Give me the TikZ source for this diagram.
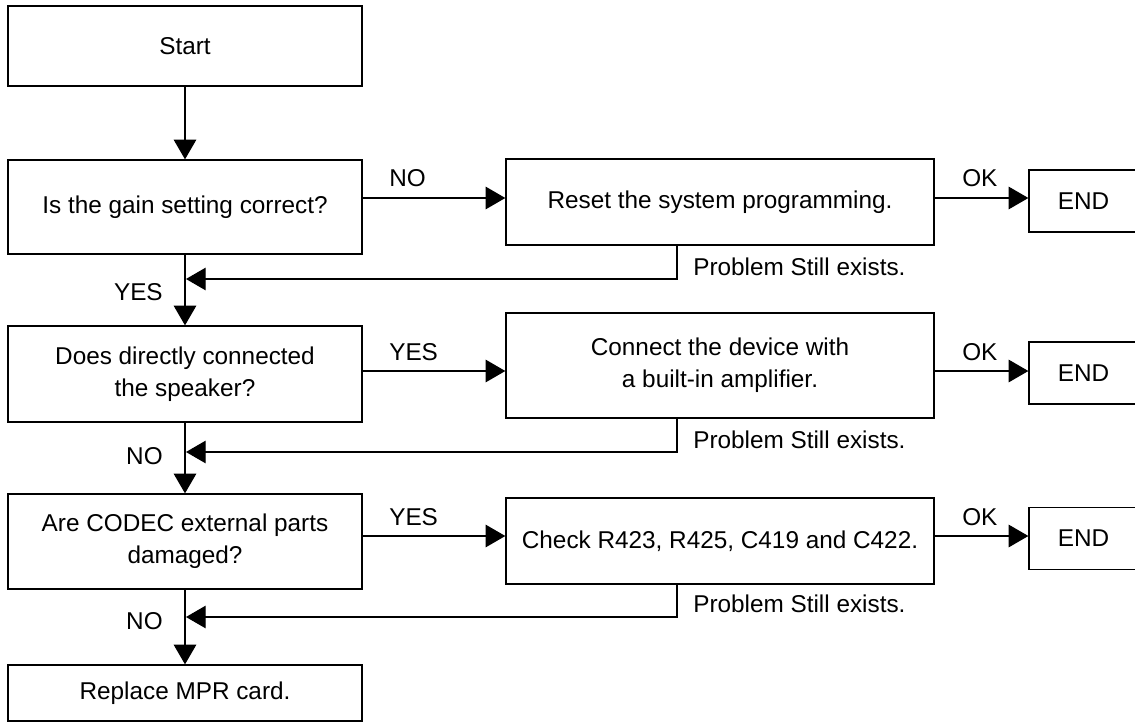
\documentclass[tikz,border=0pt]{standalone}
\usepackage{fontspec}
\setmainfont{Liberation Sans}
\usetikzlibrary{arrows.meta, positioning, calc}

\begin{document}
\begin{tikzpicture}[
    x=0.025cm, y=-0.025cm,
    every node/.style={font=\fontsize{17.3pt}{22.8pt}\selectfont},
    question/.style={rectangle, draw, line width=0.9pt, minimum width=8.85cm, align=center, inner sep=0pt},
    action/.style={rectangle, draw, line width=0.9pt, minimum width=10.7cm, align=center, inner sep=0pt},
    finish/.style={rectangle, draw, line width=0.9pt, minimum width=2.9cm, minimum height=1.55cm, text width=2.7cm, align=left, inner sep=0pt},
    arrow/.style={-{Triangle[length=14pt, width=16pt]}, line width=0.9pt},
    answer/.style={inner sep=0pt}
]
\useasboundingbox (0,0) rectangle (1135,722);

% Nodes
\node[question, minimum height=2cm] (start) at (185,46) {Start};
\node[question, minimum height=2.35cm] (gain) at (185,207) {Is the gain setting correct?};
\node[question, minimum height=2.4cm] (direct) at (185,374) {Does directly connected\\the speaker?};
\node[question, minimum height=2.375cm] (codec) at (185,541.5) {Are CODEC external parts\\damaged?};
\node[question, minimum height=1.4cm] (mpr) at (185,693) {Replace MPR card.};

\node[action, minimum height=2.15cm] (reset) at (720,202) {Reset the system programming.};
\node[action, minimum height=2.625cm] (amp) at (720,365.5) {Connect the device with\\a built-in amplifier.};
\node[action, minimum height=2.15cm] (parts) at (720,541) {Check R423, R425, C419 and C422.};

% END boxes run off the right edge
\node[finish] (end1) at (1087,201) {\hspace{0.62cm}END};
\node[finish] (end2) at (1087,373) {\hspace{0.62cm}END};
\node[finish] (end3) at (1087,538.5) {\hspace{0.62cm}END};

% Levels and joins
\coordinate (a1) at (0,198);
\coordinate (a2) at (0,371);
\coordinate (a3) at (0,536);
\coordinate (m1) at (186,279);
\coordinate (m2) at (186,452);
\coordinate (m3) at (186,617);
\coordinate (b1) at (677,279);
\coordinate (b2) at (677,452);
\coordinate (b3) at (677,617);

% Arrows
\draw[arrow] (start) -- (gain);
\draw[arrow] (gain) -- (direct);
\draw[arrow] (direct) -- (codec);
\draw[arrow] (codec) -- (mpr);

\draw[arrow] (gain.east |- a1) -- (reset.west |- a1);
\draw[arrow] (reset.east |- a1) -- (end1.west |- a1);
\draw[arrow] (direct.east |- a2) -- (amp.west |- a2);
\draw[arrow] (amp.east |- a2) -- (end2.west |- a2);
\draw[arrow] (codec.east |- a3) -- (parts.west |- a3);
\draw[arrow] (parts.east |- a3) -- (end3.west |- a3);

\draw[arrow] (reset.south -| b1) -- (b1) -- (m1);
\draw[arrow] (amp.south -| b2) -- (b2) -- (m2);
\draw[arrow] (parts.south -| b3) -- (b3) -- (m3);

% Labels
\node[answer, anchor=west] (gainno) at (389,178) {NO};
\node[answer, anchor=west] (directyes) at (389,352) {YES};
\node[answer, anchor=west] (codecyes) at (389,517) {YES};
\node[answer, anchor=east] (gainyes) at (163,292) {YES};
\node[answer, anchor=east] (directno) at (163,456) {NO};
\node[answer, anchor=east] (codecno) at (163,621) {NO};
\node[answer, anchor=west] (ok1) at (962,178) {OK};
\node[answer, anchor=west] (ok2) at (962,352) {OK};
\node[answer, anchor=west] (ok3) at (962,517) {OK};
\node[answer, anchor=west] (still1) at (693,267) {Problem Still exists.};
\node[answer, anchor=west] (still2) at (693,440) {Problem Still exists.};
\node[answer, anchor=west] (still3) at (693,604) {Problem Still exists.};

\end{tikzpicture}
\end{document}
